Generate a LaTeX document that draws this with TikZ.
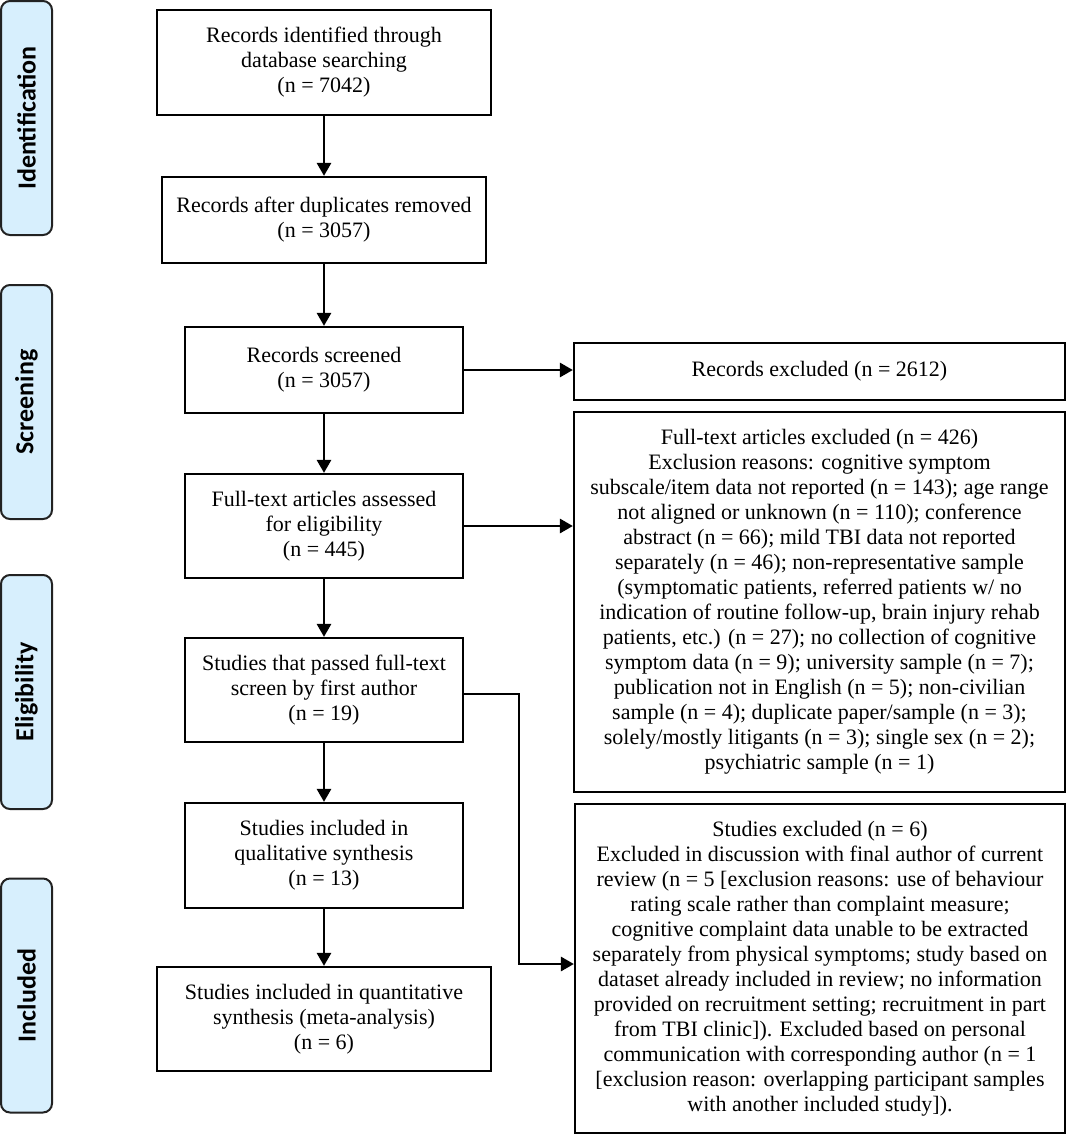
\documentclass[tikz,border=0pt]{standalone}
\usepackage{fontspec}
\setmainfont{Liberation Serif}
\newfontfamily\labfont{Carlito}
\usetikzlibrary{arrows.meta}
\definecolor{phase}{HTML}{D7EFFD}
\definecolor{phaseline}{HTML}{222222}
\begin{document}
\begin{tikzpicture}[x=1pt,y=-1pt,
  box/.style={draw=black, line width=2.2pt, align=center, inner sep=0pt,
    font=\fontsize{22}{25}\selectfont},
  phasebox/.style={draw=phaseline, fill=phase, line width=2pt, rounded corners=9pt,
    minimum width=234pt, minimum height=51pt, inner sep=0pt, rotate=90,
    font=\labfont\bfseries\fontsize{26}{30}\selectfont},
  arr/.style={line width=2.8pt, -{Triangle[length=13pt,width=14pt]}}]
\useasboundingbox (0,0) rectangle (1067,1136);

% phase labels
\node[phasebox] (pid) at (26.5,118) {Identification};
\node[phasebox] (psc) at (26.5,402) {Screening};
\node[phasebox] (pel) at (26.5,692) {Eligibility};
\node[phasebox] (pin) at (26.5,995.5) {Included};

% main column
\node[box, minimum width=334pt, minimum height=105pt] (b1) at (324,62.5)
  {Records identified through\\database searching\\(n = 7042)};
\node[box, minimum width=324pt, minimum height=86pt] (b2) at (324,220)
  {Records after duplicates removed\\(n = 3057)};
\node[box, minimum width=278pt, minimum height=86pt] (b3) at (324,370)
  {Records screened\\(n = 3057)};
\node[box, minimum width=278pt, minimum height=104pt] (b4) at (324,526)
  {Full-text articles assessed\\for eligibility\\(n = 445)};
\node[box, minimum width=278pt, minimum height=104pt] (b5) at (324,690)
  {Studies that passed full-text\\screen by first author\\(n = 19)};
\node[box, minimum width=278pt, minimum height=105pt] (b6) at (324,855.5)
  {Studies included in\\qualitative synthesis\\(n = 13)};
\node[box, minimum width=334pt, minimum height=104pt] (b7) at (324,1019)
  {Studies included in quantitative\\synthesis (meta-analysis)\\(n = 6)};

% right column
\node[box, minimum width=491pt, minimum height=57pt] (rx) at (819.5,371.5)
  {Records excluded (n = 2612)};
\node[box, minimum width=491pt, minimum height=380pt] (fx) at (819.5,602)
  {Full-text articles excluded (n = 426)\\
   Exclusion reasons: cognitive symptom\\
   subscale/item data not reported (n = 143); age range\\
   not aligned or unknown (n = 110); conference\\
   abstract (n = 66); mild TBI data not reported\\
   separately (n = 46); non-representative sample\\
   (symptomatic patients, referred patients w/ no\\
   indication of routine follow-up, brain injury rehab\\
   patients, etc.) (n = 27); no collection of cognitive\\
   symptom data (n = 9); university sample (n = 7);\\
   publication not in English (n = 5); non-civilian\\
   sample (n = 4); duplicate paper/sample (n = 3);\\
   solely/mostly litigants (n = 3); single sex (n = 2);\\
   psychiatric sample (n = 1)};
\node[box, minimum width=490pt, minimum height=329pt] (sx) at (820,968.5)
  {Studies excluded (n = 6)\\
   Excluded in discussion with final author of current\\
   review (n = 5 [exclusion reasons: use of behaviour\\
   rating scale rather than complaint measure;\\
   cognitive complaint data unable to be extracted\\
   separately from physical symptoms; study based on\\
   dataset already included in review; no information\\
   provided on recruitment setting; recruitment in part\\
   from TBI clinic]). Excluded based on personal\\
   communication with corresponding author (n = 1\\
   {[}exclusion reason: overlapping participant samples\\
   with another included study{]}).};

% connectors
\draw[arr] (b1) -- (b2);
\draw[arr] (b2) -- (b3);
\draw[arr] (b3) -- (b4);
\draw[arr] (b4) -- (b5);
\draw[arr] (b5) -- (b6);
\draw[arr] (b6) -- (b7);
\draw[arr] (b3.east) -- (b3.east -| rx.west);
\draw[arr] (b4.east) -- (b4.east -| fx.west);
\coordinate (j1) at (519,694);
\coordinate (j2) at (519,964);
\draw[arr] (b5.east |- j1) -- (j1) -- (j2) -- (sx.west |- j2);
\end{tikzpicture}
\end{document}
